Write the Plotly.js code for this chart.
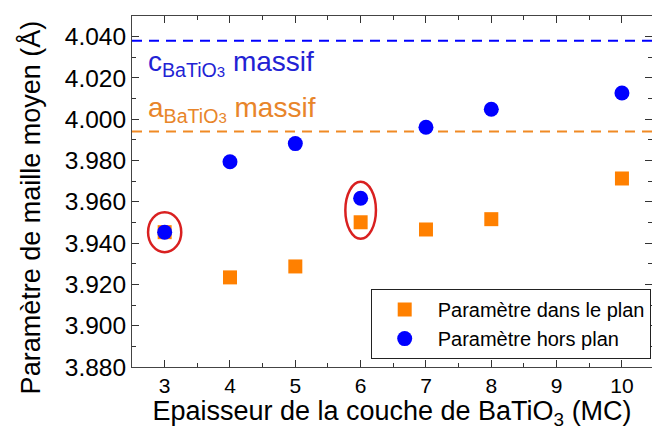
<!DOCTYPE html>
<html>
<head>
<meta charset="utf-8">
<script src="https://cdn.plot.ly/plotly-3.0.1.min.js"></script>
<style>html,body{margin:0;padding:0;background:#fff;}#chart{width:652px;height:430px;}</style>
</head>
<body>
<div id="chart"></div>
<script>
// ---- data ----
const thickness = [3, 4, 5, 6, 7, 8, 10];
const inPlane   = [3.9453, 3.9234, 3.9287, 3.9501, 3.9466, 3.9516, 3.9713];
const outPlane  = [3.9453, 3.9794, 3.9882, 3.9617, 3.9961, 4.0048, 4.0127];
const seriesNames = ['Paramètre dans le plan', 'Paramètre hors plan'];
const bulkValues = [4.038, 3.994];           // c, a of bulk BaTiO3
const bulkLabels = ['c<sub>BaTiO<span style="font-size:15px">3</span></sub> massif',
                    'a<sub>BaTiO<span style="font-size:15px">3</span></sub> massif'];
const highlighted = [3, 6];                  // circled thicknesses
const xTicks = [3, 4, 5, 6, 7, 8, 9, 10];
const xTitle = 'Epaisseur de la couche de BaTiO<sub>3</sub> (MC)';
const yTitle = 'Paramètre de maille moyen (Å)';

// ---- styles ----
const FONT = 'Liberation Sans, Arial, sans-serif';
const bulkColors = ['#0000ff', '#f08a24'];
const bulkTextColors = ['#2222d4', '#e8852a'];
const ellipseSize = {3: [16.6, 20], 6: [15.3, 28.5]};

const traces = [
  {x: thickness, y: inPlane, name: seriesNames[0], type: 'scatter', mode: 'markers',
   marker: {symbol: 'square', size: 14, color: '#ff8000'}},
  {x: thickness, y: outPlane, name: seriesNames[1], type: 'scatter', mode: 'markers',
   marker: {symbol: 'circle', size: 15, color: '#0000ff'}}
];

const shapes = [];
bulkValues.forEach((v, i) => {
  shapes.push({type: 'line', xref: 'paper', x0: 0, x1: 1, yref: 'y', y0: v, y1: v,
    line: {color: bulkColors[i], width: 2, dash: '10px,7px'}, layer: 'below'});
});
highlighted.forEach(h => {
  const idx = thickness.indexOf(h);
  const yc = (inPlane[idx] + outPlane[idx]) / 2;
  const s = ellipseSize[h];
  shapes.push({type: 'circle', xref: 'x', yref: 'y', xsizemode: 'pixel', ysizemode: 'pixel',
    xanchor: h, yanchor: yc, x0: -s[0], x1: s[0], y0: -s[1], y1: s[1],
    line: {color: '#d92020', width: 2.5}});
});

const annotations = [
  {xref: 'paper', x: 0.026, yref: 'y', y: bulkValues[0], xanchor: 'left', yanchor: 'top',
   yshift: -3, text: bulkLabels[0], showarrow: false,
   font: {family: FONT, size: 28, color: bulkTextColors[0]}},
  {xref: 'paper', x: 0.026, yref: 'y', y: bulkValues[1], xanchor: 'left', yanchor: 'bottom',
   yshift: 3, text: bulkLabels[1], showarrow: false,
   font: {family: FONT, size: 28, color: bulkTextColors[1]}},
  {xref: 'paper', x: -0.196, yref: 'paper', y: 0.455, xanchor: 'center', yanchor: 'middle',
   textangle: -90, text: yTitle, showarrow: false,
   font: {family: FONT, size: 27, color: '#000'}}
];

const layout = {
  width: 652, height: 430,
  margin: {l: 132, r: 0, t: 16, b: 63},
  paper_bgcolor: '#fff', plot_bgcolor: '#fff',
  font: {family: FONT, color: '#000'},
  showlegend: true,
  legend: {x: 0.9975, xanchor: 'right', y: 0.222, yanchor: 'top',
    bgcolor: '#fff', bordercolor: '#222', borderwidth: 1,
    font: {family: FONT, size: 20, color: '#000'}, itemwidth: 56,
    tracegroupgap: 0},
  xaxis: {range: [2.5, 10.46], tickvals: xTicks, ticktext: xTicks.map(String),
    ticks: 'inside', ticklen: 7, tickcolor: '#333', showline: true, linecolor: '#444',
    mirror: 'ticks', showgrid: false, zeroline: false,
    tickfont: {family: FONT, size: 21, color: '#000'},
    minor: {dtick: 0.5, tick0: 2.5, ticks: 'inside', ticklen: 4, tickcolor: '#333'},
    title: {text: xTitle, font: {family: FONT, size: 27, color: '#000'}, standoff: 8}},
  yaxis: {range: [3.88, 4.050], tick0: 3.88, dtick: 0.02, tickformat: '.3f',
    ticks: 'inside', ticklen: 7, tickcolor: '#333', showline: true, linecolor: '#444',
    mirror: 'ticks', showgrid: false, zeroline: false,
    tickfont: {family: FONT, size: 24.5, color: '#000'},
    minor: {dtick: 0.01, ticks: 'inside', ticklen: 4, tickcolor: '#333'}},
  shapes: shapes,
  annotations: annotations
};

Plotly.newPlot('chart', traces, layout, {displayModeBar: false, staticPlot: true});
</script>
</body>
</html>
